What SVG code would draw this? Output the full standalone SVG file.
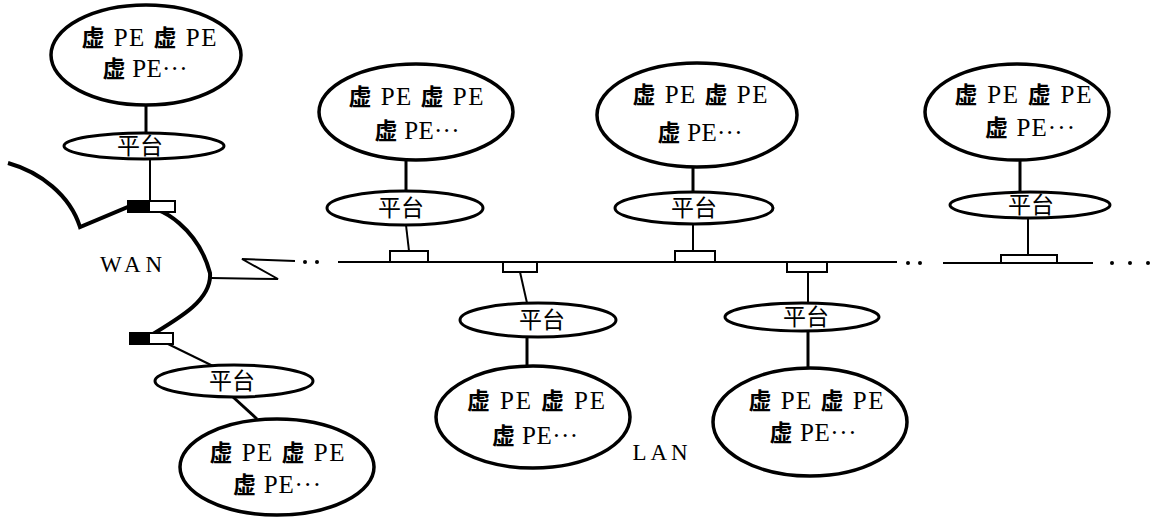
<svg xmlns="http://www.w3.org/2000/svg" width="1162" height="520" viewBox="0 0 1162 520">
<style>
.pe{fill:#fff;stroke:#000;stroke-width:3.5}
.pf{fill:#fff;stroke:#000;stroke-width:3}
.t{font-family:"Liberation Serif","Noto Sans CJK SC",serif;font-size:25px;fill:#000}
.cj{font-family:"Noto Sans CJK SC",sans-serif;font-weight:700;font-size:23px}
.pt{font-family:"Noto Sans CJK SC",sans-serif;font-size:23px;fill:#000}
.lbl{font-family:"Liberation Serif",serif;font-size:23px;fill:#000}
.c{stroke:#000;stroke-width:2;fill:none}
.ct{stroke:#000;stroke-width:3;fill:none}
.box{fill:#fff;stroke:#000;stroke-width:2}
.dot{fill:#000}
</style>
<rect width="1162" height="520" fill="#fff"/>

<g id="connectors">
  <path d="M8,163 C40,172 70,195 80,227 L128,207 C165,200 200,235 210,273 C212,300 180,318 143,340" fill="none" stroke="#000" stroke-width="4"/>
  <path d="M211,278 L278,279 L242,259 L295,261" class="c" stroke-width="2.5"/>
  <circle class="dot" cx="305" cy="262" r="2"/>
  <circle class="dot" cx="317" cy="262" r="2"/>
  <line x1="338" y1="262" x2="897" y2="262" class="c"/>
  <circle class="dot" cx="908" cy="263" r="2"/>
  <circle class="dot" cx="920" cy="263" r="2"/>
  <line x1="943" y1="263" x2="1093" y2="263" class="c"/>
  <circle class="dot" cx="1112" cy="263" r="2"/>
  <circle class="dot" cx="1130" cy="263" r="2"/>
  <circle class="dot" cx="1148" cy="263" r="2"/>
  <rect class="box" x="128" y="201" width="47" height="11"/>
  <rect x="128" y="201" width="22" height="11" fill="#000"/>
  <rect class="box" x="130" y="333" width="43" height="11"/>
  <rect x="130" y="333" width="20" height="11" fill="#000"/>
  <path d="M390,262 V251 H428 V262" class="c"/>
  <path d="M675,262 V251 H715 V262" class="c"/>
  <path d="M1001,263 V255 H1057 V263" class="c"/>
  <path d="M503,262 V272 H537 V262" class="c"/>
  <path d="M787,262 V272 H827 V262" class="c"/>
  <line x1="146" y1="105" x2="146" y2="134" class="ct"/>
  <line x1="150" y1="159" x2="150" y2="201" class="c"/>
  <line x1="168" y1="344" x2="213" y2="366" class="c"/>
  <line x1="233" y1="397" x2="257" y2="419" class="ct"/>
  <line x1="406" y1="160" x2="406" y2="191" class="ct"/>
  <line x1="406" y1="225" x2="409" y2="251" class="c"/>
  <line x1="693" y1="167" x2="693" y2="192" class="ct"/>
  <line x1="693" y1="224" x2="693" y2="251" class="c"/>
  <line x1="1020" y1="160" x2="1020" y2="192" class="ct"/>
  <line x1="1028" y1="218" x2="1028" y2="255" class="c"/>
  <line x1="520" y1="272" x2="527" y2="303" class="c"/>
  <line x1="527" y1="337" x2="527" y2="367" class="ct"/>
  <line x1="808" y1="272" x2="808" y2="305" class="c"/>
  <line x1="808" y1="329" x2="808" y2="368" class="ct"/>
</g>

<g id="pe1">
  <ellipse class="pe" cx="146" cy="55" rx="95" ry="50"/>
  <text class="t" x="149" y="46" text-anchor="middle" textLength="135" lengthAdjust="spacing"><tspan class="cj">虚</tspan> PE <tspan class="cj">虚</tspan> PE</text>
  <text class="t" x="145" y="77" text-anchor="middle" textLength="85" lengthAdjust="spacing"><tspan class="cj">虚</tspan> PE···</text>
</g>
<g id="pf1">
  <ellipse class="pf" cx="144" cy="146" rx="80" ry="13"/>
  <text class="pt" x="140" y="154" text-anchor="middle">平台</text>
</g>

<g id="pe2">
  <ellipse class="pe" cx="416" cy="112" rx="97" ry="48"/>
  <text class="t" x="416" y="105" text-anchor="middle" textLength="135" lengthAdjust="spacing"><tspan class="cj">虚</tspan> PE <tspan class="cj">虚</tspan> PE</text>
  <text class="t" x="417" y="139" text-anchor="middle" textLength="85" lengthAdjust="spacing"><tspan class="cj">虚</tspan> PE···</text>
</g>
<g id="pf2">
  <ellipse class="pf" cx="405" cy="208" rx="78" ry="17"/>
  <text class="pt" x="401" y="216" text-anchor="middle">平台</text>
</g>

<g id="pe3">
  <ellipse class="pe" cx="697" cy="115" rx="100" ry="52"/>
  <text class="t" x="700" y="103" text-anchor="middle" textLength="135" lengthAdjust="spacing"><tspan class="cj">虚</tspan> PE <tspan class="cj">虚</tspan> PE</text>
  <text class="t" x="700" y="141" text-anchor="middle" textLength="85" lengthAdjust="spacing"><tspan class="cj">虚</tspan> PE···</text>
</g>
<g id="pf3">
  <ellipse class="pf" cx="694" cy="208" rx="79" ry="16"/>
  <text class="pt" x="694" y="216" text-anchor="middle">平台</text>
</g>

<g id="pe4">
  <ellipse class="pe" cx="1017" cy="112" rx="92" ry="48"/>
  <text class="t" x="1023" y="103" text-anchor="middle" textLength="137" lengthAdjust="spacing"><tspan class="cj">虚</tspan> PE <tspan class="cj">虚</tspan> PE</text>
  <text class="t" x="1030" y="136" text-anchor="middle" textLength="90" lengthAdjust="spacing"><tspan class="cj">虚</tspan> PE···</text>
</g>
<g id="pf4">
  <ellipse class="pf" cx="1030" cy="205" rx="80" ry="13"/>
  <text class="pt" x="1031" y="213" text-anchor="middle">平台</text>
</g>

<g id="pe5">
  <ellipse class="pe" cx="277" cy="467" rx="97" ry="48"/>
  <text class="t" x="277" y="461" text-anchor="middle" textLength="135" lengthAdjust="spacing"><tspan class="cj">虚</tspan> PE <tspan class="cj">虚</tspan> PE</text>
  <text class="t" x="277" y="493" text-anchor="middle" textLength="88" lengthAdjust="spacing"><tspan class="cj">虚</tspan> PE···</text>
</g>
<g id="pf5">
  <ellipse class="pf" cx="234" cy="381" rx="79" ry="16"/>
  <text class="pt" x="232" y="389" text-anchor="middle">平台</text>
</g>

<g id="pe6">
  <ellipse class="pe" cx="533" cy="417" rx="97" ry="51"/>
  <text class="t" x="536" y="409" text-anchor="middle" textLength="138" lengthAdjust="spacing"><tspan class="cj">虚</tspan> PE <tspan class="cj">虚</tspan> PE</text>
  <text class="t" x="535" y="444" text-anchor="middle" textLength="86" lengthAdjust="spacing"><tspan class="cj">虚</tspan> PE···</text>
</g>
<g id="pf6">
  <ellipse class="pf" cx="538" cy="320" rx="78" ry="17"/>
  <text class="pt" x="542" y="328" text-anchor="middle">平台</text>
</g>

<g id="pe7">
  <ellipse class="pe" cx="810" cy="422" rx="97" ry="54"/>
  <text class="t" x="816" y="409" text-anchor="middle" textLength="135" lengthAdjust="spacing"><tspan class="cj">虚</tspan> PE <tspan class="cj">虚</tspan> PE</text>
  <text class="t" x="813" y="441" text-anchor="middle" textLength="87" lengthAdjust="spacing"><tspan class="cj">虚</tspan> PE···</text>
</g>
<g id="pf7">
  <ellipse class="pf" cx="802" cy="317" rx="77" ry="14"/>
  <text class="pt" x="806" y="325" text-anchor="middle">平台</text>
</g>

<g id="labels">
  <text class="lbl" x="131" y="272" text-anchor="middle" textLength="62" lengthAdjust="spacing">WAN</text>
  <text class="lbl" x="660" y="460" text-anchor="middle" textLength="55" lengthAdjust="spacing">LAN</text>
</g>
</svg>
